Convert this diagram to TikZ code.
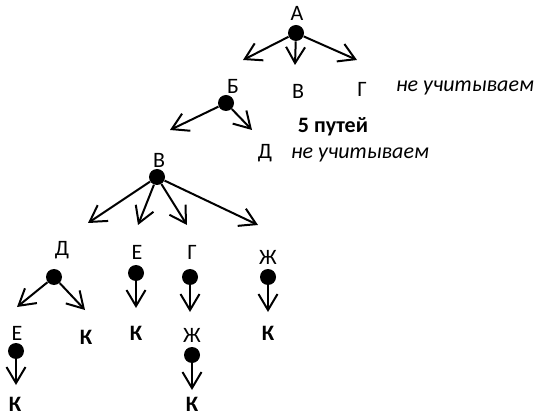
\documentclass[tikz,border=0pt]{standalone}
\usepackage{fontspec}
\setmainfont{Carlito}
\usetikzlibrary{arrows.meta}
\begin{document}
\begin{tikzpicture}[x=0.5pt,y=-0.5pt,
  dot/.style={circle,fill=black,inner sep=0pt,minimum size=8pt},
  lbl/.style={inner sep=0pt,font=\fontsize{11}{13}\selectfont},
  end/.style={lbl,font=\fontsize{11}{13}\selectfont\bfseries},
  note/.style={lbl,font=\fontsize{11}{13}\selectfont\itshape},
  arr/.style={draw,line width=1pt,-{Straight Barb[length=8pt,width=9.5pt]}}]
\useasboundingbox (0,0) rectangle (534,416);

% root A
\node[lbl] (lA) at (297,13) {А};
\node[dot] (dA) at (296,33) {};
\coordinate (tA1) at (243,60);
\coordinate (tA2) at (295,65);
\coordinate (tA3) at (357,60);
\path[arr] (dA) -- (tA1);
\path[arr] (dA) -- (tA2);
\path[arr] (dA) -- (tA3);

\node[lbl] (lB) at (233,86) {Б};
\node[lbl] (lV1) at (298,91) {В};
\node[lbl] (lG1) at (362,89) {Г};
\node[note] (n1) at (465,88) {не учитываем};

% B
\node[dot] (dB) at (226,103) {};
\coordinate (tB1) at (170,130);
\coordinate (tB2) at (252,130);
\path[arr] (dB) -- (tB1);
\path[arr] (dB) -- (tB2);

\node[end] (sum) at (333,127) {5 путей};
\node[lbl] (lD1) at (265,153) {Д};
\node[note] (n2) at (360,155) {не учитываем};

% V
\node[lbl] (lV2) at (159,160) {В};
\node[dot] (dV) at (157,177) {};
\coordinate (tV1) at (88,223);
\coordinate (tV2) at (138,225);
\coordinate (tV3) at (187,225);
\coordinate (tV4) at (258,225);
\path[arr] (dV) -- (tV1);
\path[arr] (dV) -- (tV2);
\path[arr] (dV) -- (tV3);
\path[arr] (dV) -- (tV4);

\node[lbl] (lD2) at (62,250) {Д};
\node[lbl] (lE1) at (137,252) {Е};
\node[lbl] (lG2) at (192,252) {Г};
\node[lbl] (lZh1) at (268,257) {Ж};

\node[dot] (dD) at (54,277) {};
\node[dot] (dE) at (136,273) {};
\node[dot] (dG) at (190,277) {};
\node[dot] (dZh) at (268,277) {};
\coordinate (tD1) at (17,307);
\coordinate (tD2) at (85,310);
\coordinate (tE) at (136,308);
\coordinate (tG) at (190,312);
\coordinate (tZh) at (268,312);
\path[arr] (dD) -- (tD1);
\path[arr] (dD) -- (tD2);
\path[arr] (dE) -- (tE);
\path[arr] (dG) -- (tG);
\path[arr] (dZh) -- (tZh);

\node[lbl] (lE2) at (17,333) {Е};
\node[end] (lK1) at (86,337) {К};
\node[end] (lK2) at (136,333) {К};
\node[lbl] (lZh2) at (192,335) {Ж};
\node[end] (lK3) at (268,333) {К};

\node[dot] (dE2) at (16,351) {};
\node[dot] (dZh2) at (192,355) {};
\coordinate (tE2) at (16,385);
\coordinate (tZh2) at (192,390);
\path[arr] (dE2) -- (tE2);
\path[arr] (dZh2) -- (tZh2);

\node[end] (lK4) at (15,404) {К};
\node[end] (lK5) at (192,404) {К};
\end{tikzpicture}
\end{document}
